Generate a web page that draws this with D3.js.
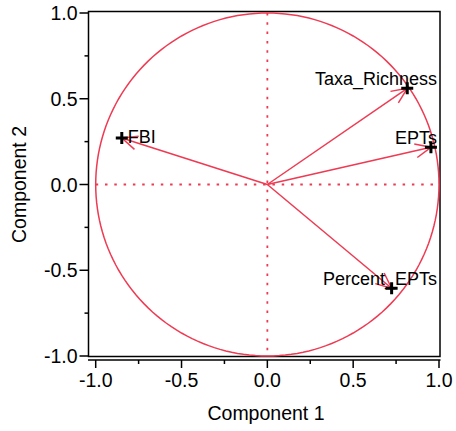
<!DOCTYPE html>
<html><head><meta charset="utf-8">
<script src="https://cdn.jsdelivr.net/npm/d3@7"></script>
<style>body{margin:0;background:#fff}svg{display:block}text{font-family:"Liberation Sans",Arial,sans-serif}</style>
</head><body>
<svg id="c" width="456" height="431"></svg>
<script>
const variables = ["FBI", "Taxa_Richness", "EPTs", "Percent_EPTs"];
const comp1 = [-0.848, 0.815, 0.953, 0.724];
const comp2 = [0.271, 0.561, 0.217, -0.605];
const tickValues = [-1.0, -0.5, 0.0, 0.5, 1.0];
const minorTicks = [-0.75, -0.25, 0.25, 0.75];

const red = "#ee3a52";
const svg = d3.select("#c");
const x = d3.scaleLinear().domain([-1, 1]).range([95.7, 439]);
const y = d3.scaleLinear().domain([-1, 1]).range([356, 13]);
const fmt = d3.format(".1f");
const fmtT = v => fmt(v).replace("−", "-");

// frame
svg.append("rect").attr("x", 88.5).attr("y", 11.5).attr("width", 351.5).attr("height", 345)
  .attr("fill", "none").attr("stroke", "#000").attr("stroke-width", 1.5);

// x axis (offset below frame)
const gx = svg.append("g").attr("transform", "translate(0,360)");
gx.append("line").attr("x1", 88).attr("x2", 440.5).attr("stroke", "#000").attr("stroke-width", 1.5);
gx.selectAll(".maj").data(tickValues).join("line").attr("class", "maj").attr("x1", d => x(d)).attr("x2", d => x(d))
  .attr("y1", 0).attr("y2", 8).attr("stroke", "#000").attr("stroke-width", 1.5);
gx.selectAll(".min").data(minorTicks).join("line").attr("class", "min").attr("x1", d => x(d)).attr("x2", d => x(d))
  .attr("y1", 0).attr("y2", 4).attr("stroke", "#000").attr("stroke-width", 1.5);
gx.selectAll("text").data(tickValues).join("text").attr("x", d => x(d)).attr("y", 26.5)
  .attr("text-anchor", "middle").attr("font-size", 19.5).text(fmtT);

// y axis
const gy = svg.append("g").attr("transform", "translate(88.5,0)");
gy.selectAll(".maj").data(tickValues).join("line").attr("class", "maj").attr("y1", d => y(d)).attr("y2", d => y(d))
  .attr("x1", 0).attr("x2", -9).attr("stroke", "#000").attr("stroke-width", 1.5);
gy.selectAll(".min").data(minorTicks).join("line").attr("class", "min").attr("y1", d => y(d)).attr("y2", d => y(d))
  .attr("x1", 0).attr("x2", -4).attr("stroke", "#000").attr("stroke-width", 1.5);
gy.selectAll("text").data(tickValues).join("text").attr("x", -11).attr("y", d => y(d) + 7)
  .attr("text-anchor", "end").attr("font-size", 19.5).text(fmtT);

// axis titles
svg.append("text").attr("x", 266).attr("y", 420).attr("text-anchor", "middle").attr("font-size", 19.5).text("Component 1");
svg.append("text").attr("transform", `translate(26,${y(0)}) rotate(-90)`).attr("text-anchor", "middle")
  .attr("font-size", 19.5).text("Component 2");

// reference lines
svg.append("line").attr("x1", x(0)).attr("x2", x(0)).attr("y1", y(1)).attr("y2", y(-1))
  .attr("stroke", red).attr("stroke-width", 1.8).attr("stroke-dasharray", "2.5,6.8");
svg.append("line").attr("x1", x(-1)).attr("x2", x(1)).attr("y1", y(0)).attr("y2", y(0))
  .attr("stroke", red).attr("stroke-width", 1.8).attr("stroke-dasharray", "2.5,6.8");

// unit circle
const circ = d3.range(0, 361, 2).map(a => [Math.cos(a * Math.PI / 180), Math.sin(a * Math.PI / 180)]);
svg.append("path").attr("d", d3.line().x(d => x(d[0])).y(d => y(d[1]))(circ))
  .attr("fill", "none").attr("stroke", red).attr("stroke-width", 1.5);

// vectors
const pts = variables.map((v, i) => ({name: v, cx: comp1[i], cy: comp2[i]}));
const g = svg.append("g");
pts.forEach(p => {
  const x0 = x(0), y0 = y(0), x1 = x(p.cx), y1 = y(p.cy);
  g.append("line").attr("x1", x0).attr("y1", y0).attr("x2", x1).attr("y2", y1)
    .attr("stroke", red).attr("stroke-width", 1.5);
  const ang = Math.atan2(y0 - y1, x0 - x1);
  const L = 17, spread = 0.42;
  [ang - spread, ang + spread].forEach(a => {
    g.append("line").attr("x1", x1).attr("y1", y1)
      .attr("x2", x1 + L * Math.cos(a)).attr("y2", y1 + L * Math.sin(a))
      .attr("stroke", red).attr("stroke-width", 1.5);
  });
  g.append("path").attr("d", `M${x1 - 6},${y1}H${x1 + 6}M${x1},${y1 - 6}V${y1 + 6}`)
    .attr("stroke", "#000").attr("stroke-width", 3);
});
// labels
const lab = svg.append("g").attr("font-size", 18);
pts.forEach(p => {
  const x1 = x(p.cx), y1 = y(p.cy);
  const t = lab.append("text").text(p.name);
  if (p.cx < 0) {
    t.attr("x", x1 + 6).attr("y", y1 + 5);
  } else {
    t.attr("x", 437).attr("y", y1 - 3).attr("text-anchor", "end");
  }
});
</script>
</body></html>
